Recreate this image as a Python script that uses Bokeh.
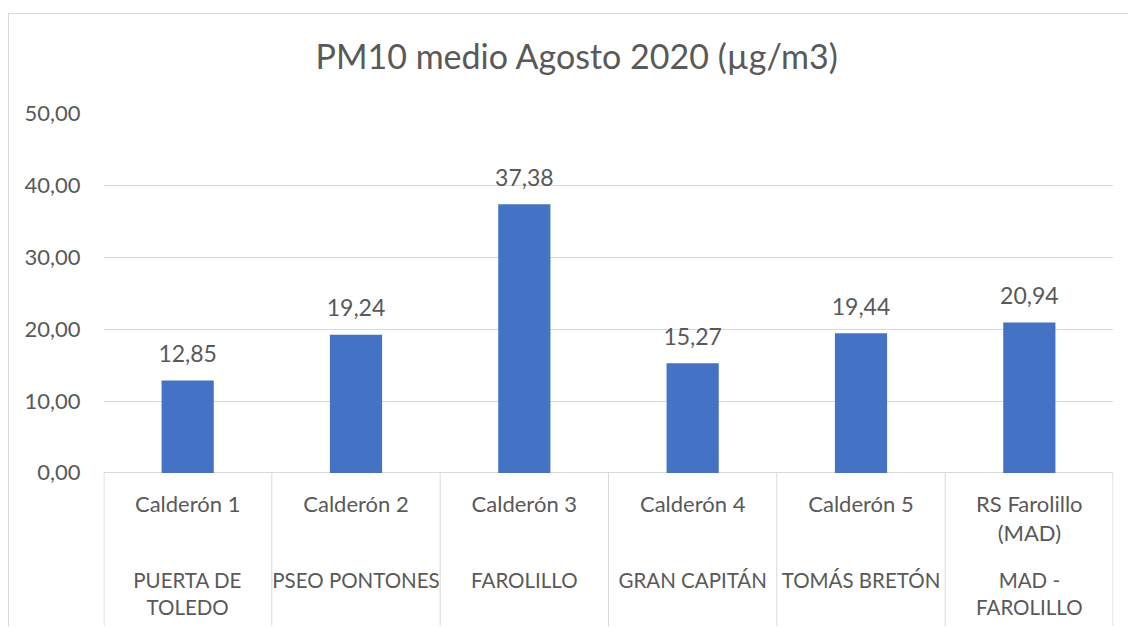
from bokeh.plotting import figure
from bokeh.models import Range1d, FactorRange, FixedTicker, ColumnDataSource, Title
from bokeh.core.properties import value
from bokeh.embed import file_html
from bokeh.resources import INLINE

# ---- data ----
stations = ["Calderón 1", "Calderón 2", "Calderón 3", "Calderón 4", "Calderón 5", "RS Farolillo\n(MAD)"]
locations = ["PUERTA DE\nTOLEDO", "PSEO PONTONES", "FAROLILLO", "GRAN CAPITÁN", "TOMÁS BRETÓN", "MAD -\nFAROLILLO"]
pm10 = [12.85, 19.24, 37.38, 15.27, 19.44, 20.94]
y_ticks = [0, 10, 20, 30, 40, 50]
title_text = "PM10 medio Agosto 2020 (µg/m3)"

# ---- style ----
FONT = "Lato"
TXT = "#595959"
GRID = "#D9D9D9"
BAR = "#4472C4"

factors = [s.replace("\n", " ") for s in stations]

def fmt(v):
    return f"{v:.2f}".replace(".", ",")

p = figure(width=1120, height=613,
           x_range=FactorRange(factors=factors, range_padding=0),
           y_range=Range1d(-21.5, 50),
           output_backend="svg", toolbar_location=None,
           x_axis_location=None,
           min_border_left=94, min_border_right=16,
           min_border_top=99, min_border_bottom=0,
           title=title_text)
p.margin = (13, 0, 0, 8)
p.styles = {"border-top": "1px solid #D9D9D9", "border-left": "1px solid #D9D9D9"}
p.outline_line_color = None
p.background_fill_color = "white"
p.border_fill_color = "white"

p.title.text_font = FONT
p.title.text_font_size = "34px"
p.title.text_font_style = "normal"
p.title.text_color = TXT
p.title.align = "left"
p.title.offset = 212
p.title.standoff = 0

# empty spacer between title and plot area
p.add_layout(Title(text=" ", text_font_size="10px", standoff=25), "above")

# y axis
ya = p.yaxis[0]
ya.ticker = FixedTicker(ticks=y_ticks)
ya.major_label_overrides = {t: fmt(t) for t in y_ticks}
ya.axis_line_color = None
ya.major_tick_line_color = None
ya.minor_tick_line_color = None
ya.major_tick_out = 0
ya.major_tick_in = 0
ya.major_label_standoff = 23
ya.major_label_text_font = FONT
ya.major_label_text_font_size = "22px"
ya.major_label_text_color = TXT

p.ygrid.ticker = FixedTicker(ticks=y_ticks)
p.ygrid.grid_line_color = GRID
p.ygrid.grid_line_width = 1
p.xgrid.visible = False

# bars
src = ColumnDataSource(dict(x=factors, top=pm10, lab=[fmt(v) for v in pm10]))
p.vbar(x="x", top="top", bottom=0, width=0.31, source=src,
       fill_color=BAR, line_color=None)

# data labels
p.text(x="x", y="top", text="lab", source=src, text_align="center",
       text_baseline="alphabetic", y_offset=-27,
       text_font=value(FONT), text_font_size="23px", text_color=TXT)

# category separators
sep_x = [(f, -0.5) for f in factors] + [(factors[-1], 0.5)]
sep_x[0] = (factors[0], -0.497)
sep_x[-1] = (factors[-1], 0.497)
p.segment(x0=sep_x, y0=[0] * len(sep_x), x1=sep_x, y1=[-21.5] * len(sep_x),
          line_color=GRID, line_width=1)

# category labels (two levels)
def add_level(labels, first_offset, step, size):
    xs, ts, offs = [], [], []
    for f, lab in zip(factors, labels):
        for i, line in enumerate(lab.split("\n")):
            xs.append(f)
            ts.append(line)
            offs.append(first_offset + i * step)
    s = ColumnDataSource(dict(x=xs, t=ts, yo=offs, y=[0] * len(xs)))
    p.text(x="x", y="y", text="t", y_offset="yo", source=s,
           text_align="center", text_baseline="alphabetic",
           text_font=value(FONT), text_font_size=size, text_color=TXT)

add_level(stations, 31, 29, "22px")
add_level(locations, 107, 27, "20.5px")

open("out.html", "w").write(file_html(p, INLINE))
